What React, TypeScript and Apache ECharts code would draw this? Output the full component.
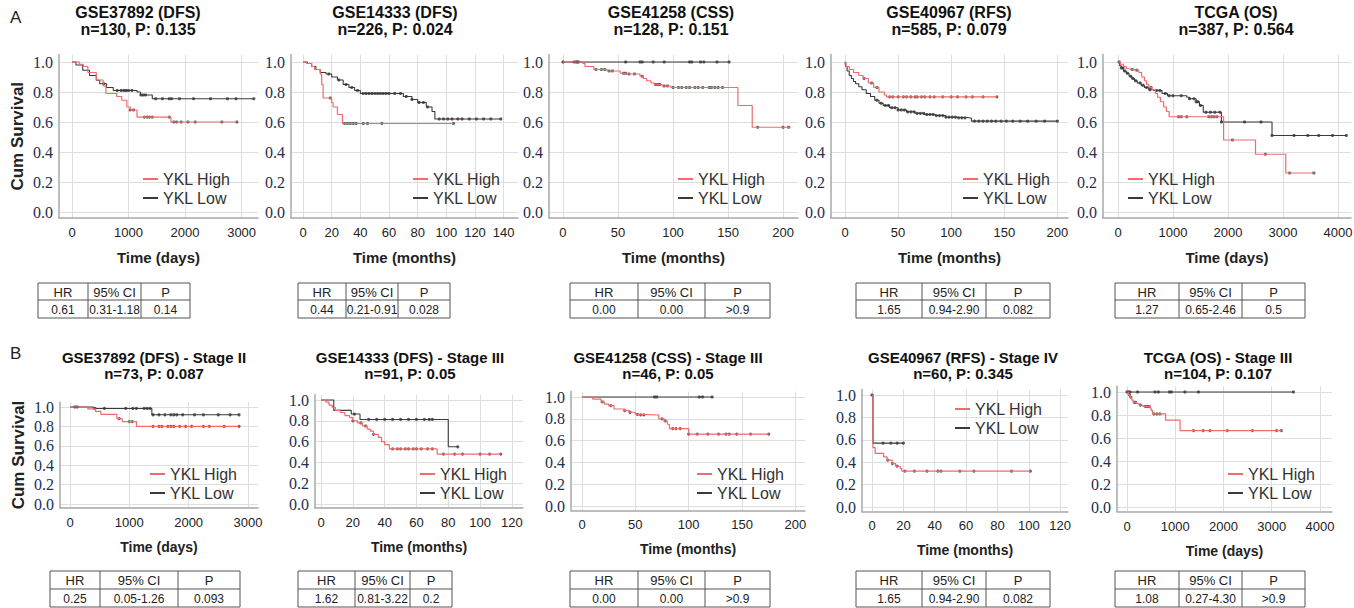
import React, { useEffect, useRef } from 'react';
import * as echarts from 'echarts';

// ---------- texts ----------
const titlesA = ['GSE37892 (DFS)', 'GSE14333 (DFS)', 'GSE41258 (CSS)', 'GSE40967 (RFS)', 'TCGA (OS)'];
const subtitlesA = ['n=130, P: 0.135', 'n=226, P: 0.024', 'n=128, P: 0.151', 'n=585, P: 0.079', 'n=387, P: 0.564'];
const titlesB = ['GSE37892 (DFS) - Stage II', 'GSE14333 (DFS) - Stage III', 'GSE41258 (CSS) - Stage III', 'GSE40967 (RFS) - Stage IV', 'TCGA (OS) - Stage III'];
const subtitlesB = ['n=73, P: 0.087', 'n=91, P: 0.05', 'n=46, P: 0.05', 'n=60, P: 0.345', 'n=104, P: 0.107'];
const xNames = ['Time (days)', 'Time (months)', 'Time (months)', 'Time (months)', 'Time (days)'];
const xStepsA = [1000, 20, 50, 50, 1000];
const xStepsB = [1000, 20, 50, 20, 1000];
const yStep = 0.2;
const legendNames = ['YKL High', 'YKL Low'];
const tableHeader = ['HR', '95% CI', 'P'];
const hrA = ['0.61', '0.44', '0.00', '1.65', '1.27'];
const ciA = ['0.31-1.18', '0.21-0.91', '0.00', '0.94-2.90', '0.65-2.46'];
const pA = ['0.14', '0.028', '>0.9', '0.082', '0.5'];
const hrB = ['0.25', '1.62', '0.00', '1.65', '1.08'];
const ciB = ['0.05-1.26', '0.81-3.22', '0.00', '0.94-2.90', '0.27-4.30'];
const pB = ['0.093', '0.2', '>0.9', '0.082', '>0.9'];

// ---------- survival curves: [time, survival after event] ----------
const a1High = [[0, 1], [130, 0.985], [200, 0.97], [280, 0.93], [430, 0.88], [550, 0.84], [600, 0.79], [790, 0.77], [880, 0.745], [970, 0.70], [1030, 0.68], [1150, 0.633], [1750, 0.60], [2916, 0.60]];
const a1Low = [[0, 1], [70, 0.98], [190, 0.945], [310, 0.91], [430, 0.878], [490, 0.855], [610, 0.83], [730, 0.81], [1150, 0.80], [1210, 0.78], [1420, 0.755], [3216, 0.755]];
const a1HighCens = [1030, 1090, 1280, 1330, 1370, 1420, 1720, 1800, 1850, 1930, 2050, 2180, 2650, 2916];
const a1LowCens = [560, 800, 870, 920, 960, 1000, 1060, 1220, 1260, 1300, 1480, 1600, 1720, 1760, 1900, 2150, 2450, 2750, 2900, 3216];

const a2High = [[0, 1], [2.4, 0.99], [6, 0.97], [8, 0.95], [12, 0.92], [13, 0.85], [14, 0.76], [20, 0.73], [21, 0.70], [24, 0.65], [27.5, 0.59], [105, 0.59]];
const a2Low = [[0, 1], [3, 0.99], [6, 0.97], [9, 0.95], [12, 0.93], [16, 0.92], [20, 0.90], [24, 0.88], [28, 0.85], [32, 0.83], [36, 0.81], [40, 0.79], [70, 0.77], [76, 0.75], [80, 0.73], [86, 0.70], [90, 0.67], [92, 0.62], [138, 0.62]];
const a2HighCens = [19, 29, 31, 33, 35, 37, 42, 45, 55, 105];
const a2LowCens = [18, 25, 30, 34, 38, 42, 44, 46, 48, 50, 52, 54, 56, 58, 60, 64, 68, 72, 76, 81, 84, 87, 95, 98, 101, 104, 108, 111, 116, 121, 126, 131, 138];

const a3High = [[0, 1], [18, 0.99], [20, 0.97], [28, 0.95], [40, 0.94], [52, 0.925], [58, 0.92], [70, 0.905], [73, 0.89], [76, 0.875], [80, 0.86], [83, 0.85], [90, 0.84], [98, 0.83], [159, 0.71], [172, 0.565], [207, 0.565]];
const a3Low = [[0, 1], [151, 1]];
const a3HighCens = [10, 13, 30, 35, 38, 42, 45, 55, 57, 60, 65, 72, 84, 86, 88, 92, 95, 100, 105, 108, 112, 115, 120, 123, 127, 133, 135, 138, 141, 145, 177, 200, 205];
const a3LowCens = [0, 12, 14, 57, 70, 72, 82, 92, 115, 117, 125, 128, 140, 151];

const a4High = [[0, 1], [1, 0.97], [4, 0.95], [8, 0.93], [13, 0.91], [17, 0.89], [22, 0.86], [27, 0.83], [32, 0.80], [37, 0.78], [39, 0.768], [143, 0.768]];
const a4Low = [[0, 1], [0.5, 0.97], [2, 0.94], [4, 0.91], [6, 0.89], [8, 0.87], [10, 0.855], [13, 0.835], [16, 0.815], [20, 0.79], [24, 0.77], [28, 0.745], [32, 0.725], [36, 0.71], [42, 0.695], [50, 0.68], [58, 0.668], [66, 0.658], [75, 0.65], [85, 0.643], [95, 0.632], [105, 0.628], [117, 0.625], [119, 0.606], [200, 0.606]];
const a4HighCens = [18, 25, 30, 42, 45, 50, 55, 58, 62, 66, 68, 72, 75, 80, 84, 92, 100, 106, 114, 120, 130, 143];
const a4LowCens = [30, 34, 38, 41, 44, 47, 50, 53, 56, 59, 62, 65, 68, 71, 74, 77, 80, 83, 86, 89, 92, 95, 98, 101, 104, 107, 110, 113, 122, 126, 130, 134, 138, 142, 147, 152, 158, 165, 172, 180, 188, 200];

const a5High = [[0, 1], [40, 0.985], [100, 0.97], [150, 0.955], [220, 0.95], [300, 0.945], [380, 0.93], [430, 0.90], [480, 0.875], [520, 0.85], [560, 0.83], [620, 0.815], [680, 0.79], [720, 0.765], [770, 0.735], [830, 0.70], [880, 0.67], [930, 0.635], [1920, 0.48], [2500, 0.385], [3050, 0.26], [3560, 0.26]];
const a5Low = [[0, 1], [30, 0.975], [60, 0.96], [100, 0.94], [150, 0.925], [200, 0.905], [250, 0.89], [300, 0.875], [350, 0.86], [420, 0.845], [480, 0.83], [560, 0.815], [650, 0.81], [800, 0.79], [900, 0.775], [1250, 0.765], [1300, 0.755], [1420, 0.735], [1480, 0.71], [1550, 0.665], [1880, 0.60], [2800, 0.51], [4150, 0.51]];
const a5HighCens = [260, 340, 600, 1100, 1150, 1250, 1650, 1700, 1750, 1800, 2080, 2680, 3120, 3560];
const a5LowCens = [20, 60, 90, 120, 170, 230, 270, 320, 400, 450, 520, 580, 700, 760, 860, 930, 1000, 1150, 1300, 1380, 1420, 1450, 1500, 1600, 1680, 1760, 1850, 1880, 2300, 2600, 2800, 3200, 3450, 3650, 3900, 4150];

const b1High = [[0, 1], [300, 0.98], [430, 0.955], [520, 0.925], [790, 0.88], [880, 0.85], [1120, 0.80], [2850, 0.80]];
const b1Low = [[0, 1], [390, 0.985], [1380, 0.92], [2850, 0.92]];
const b1HighCens = [80, 830, 1000, 1050, 1400, 1500, 1550, 1650, 1700, 1750, 1850, 1950, 2050, 2250, 2350, 2600, 2850];
const b1LowCens = [120, 420, 580, 940, 1060, 1120, 1250, 1300, 1350, 1400, 1500, 1600, 1700, 1750, 1800, 1900, 2100, 2250, 2500, 2700, 2850];

const b2High = [[0, 1], [3, 0.98], [5, 0.95], [7, 0.93], [9, 0.90], [12, 0.88], [15, 0.85], [18, 0.83], [20, 0.80], [23, 0.78], [26, 0.75], [29, 0.72], [31, 0.70], [33, 0.67], [36, 0.64], [38, 0.60], [40, 0.57], [43, 0.53], [73, 0.48], [113, 0.48]];
const b2Low = [[0, 1], [8, 0.90], [19, 0.865], [24.5, 0.813], [80, 0.55], [86, 0.55]];
const b2HighCens = [20, 25, 28, 33, 45, 48, 50, 53, 55, 58, 60, 63, 67, 70, 77, 84, 89, 100, 106, 113];
const b2LowCens = [21, 30, 35, 40, 45, 50, 55, 60, 65, 68, 70, 86];

const b3High = [[0, 1], [10, 0.98], [18, 0.955], [21, 0.935], [25, 0.92], [30, 0.89], [40, 0.875], [45, 0.86], [50, 0.84], [55, 0.835], [72, 0.80], [77, 0.78], [80, 0.75], [82, 0.71], [100, 0.66], [175, 0.66]];
const b3Low = [[0, 1], [122, 1]];
const b3HighCens = [19, 27, 40, 45, 52, 55, 58, 75, 78, 85, 88, 92, 100, 108, 118, 128, 135, 138, 145, 158, 175];
const b3LowCens = [68, 70, 110, 113, 122];

const b4High = [[0, 1], [0.6, 0.53], [2, 0.478], [7.4, 0.448], [9.6, 0.418], [12.8, 0.388], [15, 0.364], [18, 0.343], [19, 0.32], [101, 0.32]];
const b4Low = [[0, 1], [0.6, 0.57], [20, 0.57]];
const b4HighCens = [10, 13, 16, 21, 27, 35, 42, 44, 56, 65, 89, 101];
const b4LowCens = [0, 7, 12, 16, 20];

const b5High = [[0, 1], [30, 0.975], [60, 0.955], [100, 0.93], [130, 0.91], [200, 0.90], [250, 0.885], [330, 0.875], [480, 0.86], [500, 0.84], [530, 0.81], [800, 0.755], [1100, 0.665], [3200, 0.665]];
const b5Low = [[0, 1], [3450, 1]];
const b5HighCens = [50, 80, 150, 180, 280, 380, 420, 460, 560, 620, 680, 1380, 1580, 1720, 2080, 2600, 3100, 3200];
const b5LowCens = [0, 30, 60, 220, 580, 650, 880, 920, 1200, 1480, 3450];

const highCurves = [a1High, a2High, a3High, a4High, a5High, b1High, b2High, b3High, b4High, b5High];
const lowCurves = [a1Low, a2Low, a3Low, a4Low, a5Low, b1Low, b2Low, b3Low, b4Low, b5Low];
const highCens = [a1HighCens, a2HighCens, a3HighCens, a4HighCens, a5HighCens, b1HighCens, b2HighCens, b3HighCens, b4HighCens, b5HighCens];
const lowCens = [a1LowCens, a2LowCens, a3LowCens, a4LowCens, a5LowCens, b1LowCens, b2LowCens, b3LowCens, b4LowCens, b5LowCens];

// ---------- layout (pixels) ----------
const layouts = [
  { left: 59, right: 258, xMin: -230, xMax: 3290, y1: 62, y0: 212, titleX: 138, lx: 143, ly: 171 },
  { left: 291, right: 518, xMin: -8.4, xMax: 150, y1: 62, y0: 212, titleX: 395, lx: 413, ly: 171 },
  { left: 549, right: 798, xMin: -12.7, xMax: 213.6, y1: 62, y0: 212, titleX: 671, lx: 678, ly: 171 },
  { left: 831, right: 1068, xMin: -13.2, xMax: 210, y1: 62, y0: 212, titleX: 949, lx: 963, ly: 171 },
  { left: 1103, right: 1351, xMin: -273, xMax: 4236, y1: 62, y0: 212, titleX: 1236, lx: 1128, ly: 171 },
  { left: 60, right: 258, xMin: -169, xMax: 3170, y1: 407, y0: 504, titleX: 154, lx: 150, ly: 466 },
  { left: 315, right: 523, xMin: -3.8, xMax: 127, y1: 400, y0: 504, titleX: 410, lx: 420, ly: 466 },
  { left: 571, right: 805, xMin: -10.3, xMax: 209, y1: 397, y0: 506, titleX: 668, lx: 697, ly: 466 },
  { left: 862, right: 1068, xMin: -6.4, xMax: 125, y1: 395, y0: 507, titleX: 963, lx: 955, ly: 401 },
  { left: 1117, right: 1332, xMin: -207, xMax: 4249, y1: 392, y0: 507, titleX: 1218, lx: 1228, ly: 466 },
];
const tableColsA = [[38, 88, 141, 190], [298, 346, 398, 450], [570, 638, 705, 770], [856, 922, 986, 1050], [1115, 1179, 1242, 1305]];
const tableColsB = [[50, 100, 178, 240], [298, 355, 410, 452], [570, 638, 705, 770], [856, 922, 986, 1050], [1115, 1179, 1242, 1305]];

const RED = '#f06b6b';
const DARK = '#3a3a3a';
const SANS = '"Liberation Sans", Arial, sans-serif';
const SERIF = '"Liberation Serif", "Times New Roman", serif';
const Y_MIN = -0.04;
const Y_MAX = 1.05;

const survivalAt = (curve: number[][], t: number) => {
  let s = curve[0][1];
  for (const p of curve) {
    if (p[0] <= t) s = p[1];
    else break;
  }
  return s;
};

const onStep = (v: number, step: number) => {
  const r = Math.round(v / step);
  return Math.abs(v - r * step) < step * 1e-4;
};

function buildOption() {
  const grid: any[] = [];
  const xAxis: any[] = [];
  const yAxis: any[] = [];
  const series: any[] = [];
  const legend: any[] = [];
  const graphic: any[] = [];

  layouts.forEach((L, i) => {
    const rowB = i >= 5;
    const col = i % 5;
    const k = L.y0 - L.y1;
    const top = L.y1 - (Y_MAX - 1) * k;
    const height = (Y_MAX - Y_MIN) * k;
    const step = rowB ? xStepsB[col] : xStepsA[col];
    grid.push({ left: L.left, top, width: L.right - L.left, height, containLabel: false, outerBoundsMode: 'none' });
    xAxis.push({
      type: 'value', gridIndex: i, min: L.xMin, max: L.xMax, minInterval: step, maxInterval: step,
      axisLine: { show: true, onZero: false, lineStyle: { color: '#a8a8a8', width: 1.5 } },
      axisTick: { show: false },
      axisLabel: {
        margin: 8, fontSize: 13, color: '#222', fontFamily: SANS,
        showMinLabel: true, showMaxLabel: true,
        formatter: (v: number) => (v >= 0 && onStep(v, step) ? String(Math.round(v)) : ''),
      },
      splitLine: { show: true, showMinLine: false, showMaxLine: false, lineStyle: { color: '#dedede', width: 1 } },
      name: xNames[col], nameLocation: 'middle', nameGap: 32, nameMoveOverlap: false,
      nameTextStyle: { fontSize: rowB ? 14 : 15, fontWeight: 'bold', color: '#222', fontFamily: SANS },
    });
    yAxis.push({
      type: 'value', gridIndex: i, min: Y_MIN, max: Y_MAX, minInterval: yStep, maxInterval: yStep,
      axisLine: { show: true, onZero: false, lineStyle: { color: '#a8a8a8', width: 1.5 } },
      axisTick: { show: false },
      axisLabel: {
        margin: 6, fontSize: 16, color: '#22304f', fontFamily: SERIF,
        formatter: (v: number) => (v >= -1e-9 && v <= 1.0001 && onStep(v, yStep) ? (Math.round(v / yStep) * yStep).toFixed(1) : ''),
      },
      splitLine: { show: true, showMinLine: false, showMaxLine: false, lineStyle: { color: '#dedede', width: 1 } },
      name: col === 0 ? 'Cum Survival' : '', nameLocation: 'middle', nameGap: 33, nameRotate: 90, nameMoveOverlap: false,
      nameTextStyle: { fontSize: 17, fontWeight: 'bold', color: '#222', fontFamily: SANS },
    });

    series.push({
      type: 'line', name: legendNames[1], xAxisIndex: i, yAxisIndex: i, data: lowCurves[i], step: 'end',
      showSymbol: false, symbol: 'none', silent: true,
      lineStyle: { color: DARK, width: 1.1 }, itemStyle: { color: DARK },
    });
    series.push({
      type: 'line', name: legendNames[0], xAxisIndex: i, yAxisIndex: i, data: highCurves[i], step: 'end',
      showSymbol: false, symbol: 'none', silent: true,
      lineStyle: { color: RED, width: 1.2 }, itemStyle: { color: RED },
    });
    series.push({
      type: 'scatter', name: 'censor-low', xAxisIndex: i, yAxisIndex: i, silent: true,
      data: lowCens[i].map((t) => [t, survivalAt(lowCurves[i], t)]),
      symbol: 'circle', symbolSize: 3.2, itemStyle: { color: '#333' },
    });
    series.push({
      type: 'scatter', name: 'censor-high', xAxisIndex: i, yAxisIndex: i, silent: true,
      data: highCens[i].map((t) => [t, survivalAt(highCurves[i], t)]),
      symbol: 'circle', symbolSize: 3.2, itemStyle: { color: '#444' },
    });

    legend.push({
      data: legendNames, selectedMode: false, orient: 'vertical', left: L.lx, top: L.ly, padding: 0,
      icon: 'rect', itemWidth: 15, itemHeight: 2, itemGap: 3,
      textStyle: { fontSize: 16, color: '#333', fontFamily: SANS },
    });

    const t1 = rowB ? titlesB[col] : titlesA[col];
    const t2 = rowB ? subtitlesB[col] : subtitlesA[col];
    const ty = rowB ? 357 : 12;
    const fs = rowB ? 15 : 16;
    graphic.push({ type: 'text', x: L.titleX, y: ty, style: { text: t1, align: 'center', verticalAlign: 'middle', fontSize: fs, fontWeight: 'bold', fontFamily: SANS, fill: '#111' } });
    graphic.push({ type: 'text', x: L.titleX, y: ty + fs + 1, style: { text: t2, align: 'center', verticalAlign: 'middle', fontSize: fs, fontWeight: 'bold', fontFamily: SANS, fill: '#111' } });

    // table
    const cols = rowB ? tableColsB[col] : tableColsA[col];
    const tTop = rowB ? 571 : 283;
    const tMid = rowB ? 589 : 300;
    const tBot = rowB ? 607 : 318;
    const vals = rowB ? [hrB[col], ciB[col], pB[col]] : [hrA[col], ciA[col], pA[col]];
    graphic.push({ type: 'rect', shape: { x: cols[0], y: tTop, width: cols[3] - cols[0], height: tBot - tTop }, style: { fill: '#fff', stroke: '#555', lineWidth: 1 } });
    graphic.push({ type: 'line', shape: { x1: cols[0], y1: tMid, x2: cols[3], y2: tMid }, style: { stroke: '#555', lineWidth: 1 } });
    graphic.push({ type: 'line', shape: { x1: cols[1], y1: tTop, x2: cols[1], y2: tBot }, style: { stroke: '#555', lineWidth: 1 } });
    graphic.push({ type: 'line', shape: { x1: cols[2], y1: tTop, x2: cols[2], y2: tBot }, style: { stroke: '#555', lineWidth: 1 } });
    for (let c = 0; c < 3; c++) {
      const cx = (cols[c] + cols[c + 1]) / 2;
      graphic.push({ type: 'text', x: cx, y: (tTop + tMid) / 2 + 0.5, style: { text: tableHeader[c], align: 'center', verticalAlign: 'middle', fontSize: 13, fontFamily: SANS, fill: '#222' } });
      graphic.push({ type: 'text', x: cx, y: (tMid + tBot) / 2 + 0.5, style: { text: vals[c], align: 'center', verticalAlign: 'middle', fontSize: 12, fontFamily: SANS, fill: '#222' } });
    }
  });

  graphic.push({ type: 'text', x: 10, y: 17, style: { text: 'A', align: 'left', verticalAlign: 'middle', fontSize: 17, fontFamily: SANS, fill: '#222' } });
  graphic.push({ type: 'text', x: 10, y: 353, style: { text: 'B', align: 'left', verticalAlign: 'middle', fontSize: 17, fontFamily: SANS, fill: '#222' } });

  return {
    animation: false,
    backgroundColor: '#ffffff',
    grid, xAxis, yAxis, series, legend, graphic,
  };
}

export default function App() {
  const ref = useRef<HTMLDivElement>(null);
  useEffect(() => {
    if (!ref.current) return;
    const chart = echarts.init(ref.current, null, { renderer: 'svg' });
    chart.setOption(buildOption() as any);
    return () => chart.dispose();
  }, []);
  return <div ref={ref} style={{ position: 'fixed', left: 0, top: 0, width: 1354, height: 608 }} />;
}
